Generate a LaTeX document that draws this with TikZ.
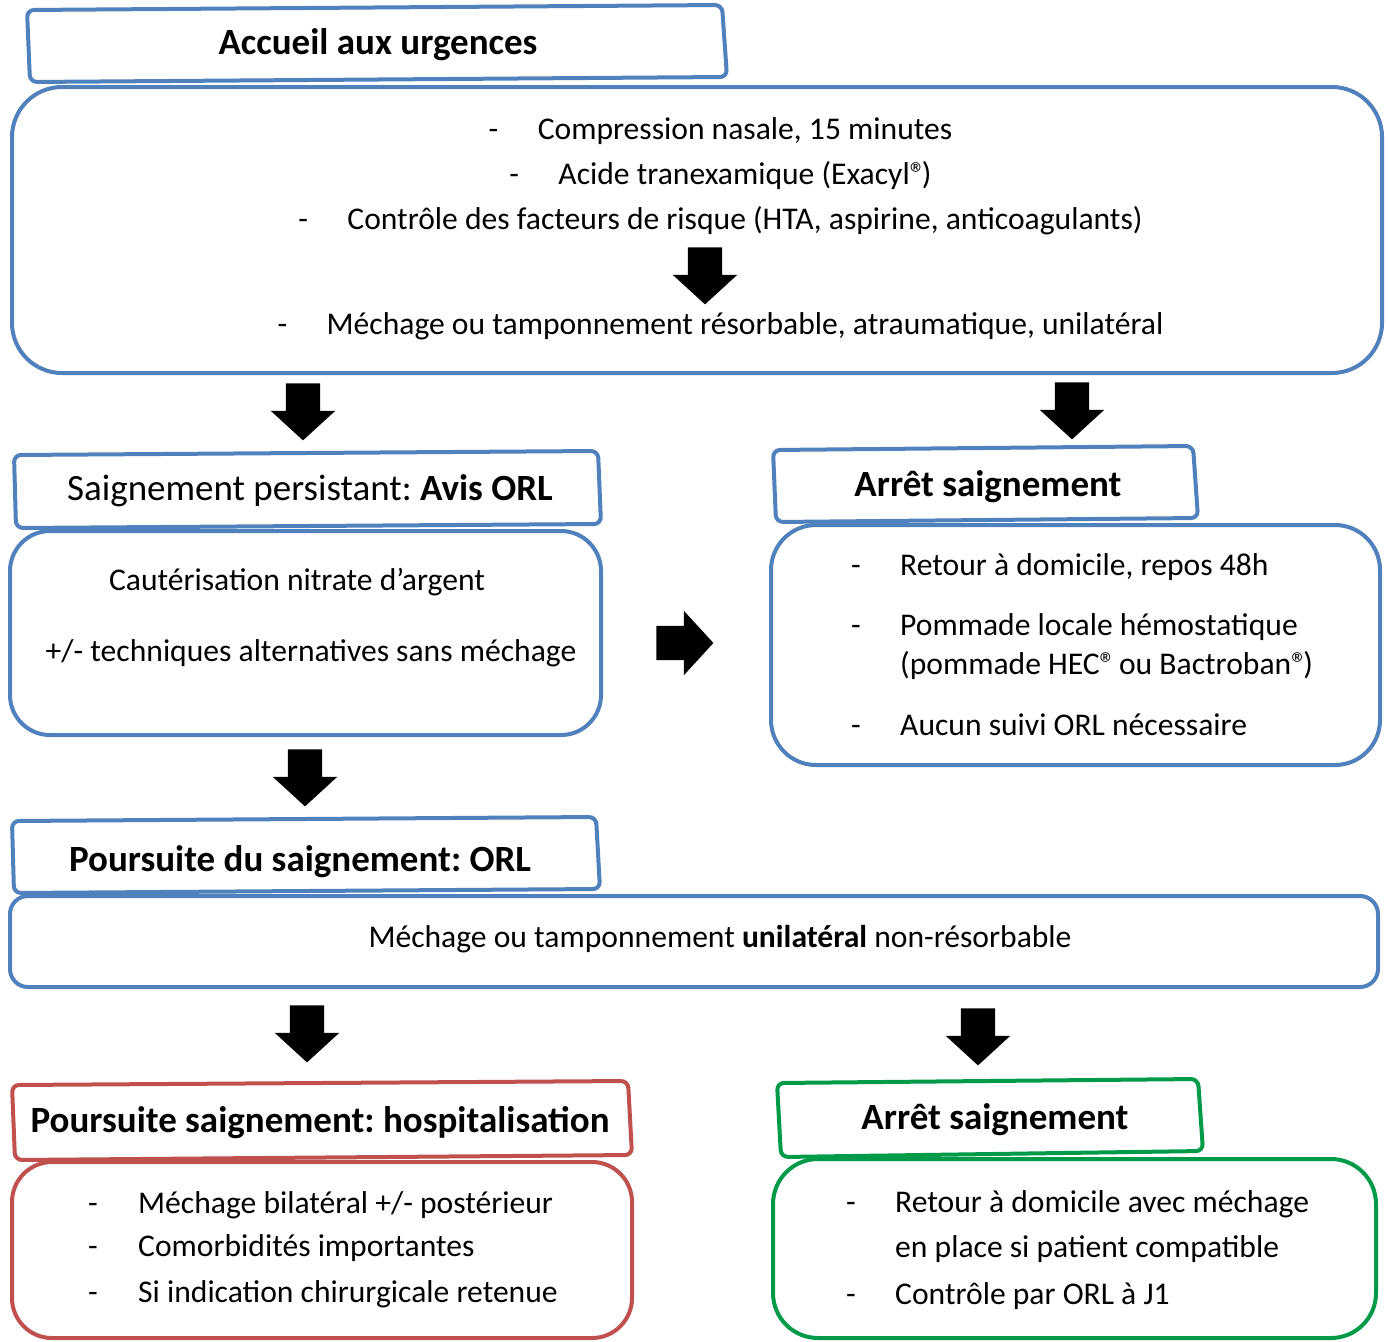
\documentclass[tikz,border=0pt]{standalone}
\usepackage{fontspec}
\setmainfont{Carlito}
\usetikzlibrary{shapes.arrows}
\definecolor{obl}{HTML}{4F81BD}
\definecolor{ored}{HTML}{C0504D}
\definecolor{ogr}{HTML}{009A48}
\newcommand{\regm}{®\kern-0.12em}
\tikzset{
  body/.style={font=\fontsize{31.6}{36}\selectfont\frenchspacing, inner sep=0pt, yshift=-2pt},
  head/.style={font=\fontsize{37}{42}\selectfont\bfseries\frenchspacing, inner sep=0pt, yshift=-2pt},
  headr/.style={font=\fontsize{37}{42}\selectfont\frenchspacing, inner sep=0pt, yshift=-2pt},
  frame/.style={line width=4pt, fill=white, rounded corners=7pt},
  box/.style={draw, line width=4pt, fill=white, rectangle, inner sep=0pt},
  darrow/.style={single arrow, fill=black, draw=none, inner sep=17pt, single arrow head extend=15pt, minimum height=57pt, shape border rotate=270, single arrow tip angle=95},
  rarrow/.style={darrow, shape border rotate=0},
  dashn/.style={font=\fontsize{31.6}{36}\selectfont, inner sep=0pt, anchor=base}
}
\begin{document}
\begin{tikzpicture}[x=1pt,y=-1pt]
\useasboundingbox (0,0) rectangle (1388,1341);
% ---- Accueil
\node[box, draw=obl, minimum width=1370pt, minimum height=286pt, rounded corners=50pt] (b1) at (697,230) {};
\draw[frame, draw=obl] (27,10) -- (722,5) -- (727,77) -- (30,82) -- cycle;
\node[head] (t1) at (378,43) {Accueil aux urgences};
\node[body] (l1) at (745,129) {Compression nasale, 15 minutes};
\node[body] (l2) at (745,173) {Acide tranexamique (Exacyl\regm)};
\node[body] (l3) at (745,219) {Contrôle des facteurs de risque (HTA, aspirine, anticoagulants)};
\node[body] (l4) at (745,324) {Méchage ou tamponnement résorbable, atraumatique, unilatéral};
\foreach \n in {l1,l2,l3,l4} \node[dashn] at ([xshift=-44pt]\n.base west) {-};
\node[darrow] (a0) at (705,268) {};
% ---- arrows from big box
\node[darrow] (a1) at (303,404) {};
\node[darrow] (a2) at (1072,403) {};
% ---- Saignement persistant
\node[box, draw=obl, minimum width=591pt, minimum height=204pt, rounded corners=40pt] (b2) at (305.5,633) {};
\draw[frame, draw=obl] (14,455) -- (598,451) -- (601,524) -- (16,528) -- cycle;
\node[headr] (t2) at (310,489) {Saignement persistant: \textbf{Avis ORL}};
\node[body] (m1) at (297,580) {Cautérisation nitrate d’argent};
\node[body] (m2) at (311,651) {+/- techniques alternatives sans méchage};
\node[rarrow] (a3) at (677,643) {};
% ---- Arrêt blue
\node[box, draw=obl, minimum width=609pt, minimum height=240pt, rounded corners=45pt] (b3) at (1075.5,645) {};
\draw[frame, draw=obl] (773,450) -- (1193,446) -- (1198,518) -- (776,522) -- cycle;
\node[head] (t3) at (988,485) {Arrêt saignement};
\node[body, anchor=west] (r1) at (900,565) {Retour à domicile, repos 48h};
\node[body, anchor=west] (r2) at (900,625) {Pommade locale hémostatique};
\node[body, anchor=west] (r3) at (900,663) {(pommade HEC\regm{} ou Bactroban\regm)};
\node[body, anchor=west] (r4) at (900,723) {Aucun suivi ORL nécessaire};
\foreach \n in {r1,r2,r4} \node[dashn] at (856,0|-\n.base) {-};
% ---- Poursuite ORL
\node[darrow] (a4) at (305,770) {};
\node[box, draw=obl, minimum width=1368pt, minimum height=91pt, rounded corners=18pt] (b4) at (694,941.5) {};
\draw[frame, draw=obl] (12,821) -- (596,817) -- (600,889) -- (14,893) -- cycle;
\node[head] (t4) at (300,860) {Poursuite du saignement: ORL};
\node[body] (u1) at (720,937) {Méchage ou tamponnement \textbf{unilatéral} non-résorbable};
\node[darrow] (a5) at (307,1026) {};
\node[darrow] (a6) at (978,1029) {};
% ---- red
\node[box, draw=ored, minimum width=620pt, minimum height=176pt, rounded corners=40pt] (b5) at (322,1250) {};
\draw[frame, draw=ored] (12,1085) -- (628,1081) -- (632,1155) -- (15,1160) -- cycle;
\node[head] (t5) at (320,1121) {Poursuite saignement: hospitalisation};
\node[body, anchor=west] (h1) at (138,1203) {Méchage bilatéral +/- postérieur};
\node[body, anchor=west] (h2) at (138,1246) {Comorbidités importantes};
\node[body, anchor=west] (h3) at (138,1292) {Si indication chirurgicale retenue};
\foreach \n in {h1,h2,h3} \node[dashn] at (93,0|-\n.base) {-};
% ---- green
\node[box, draw=ogr, minimum width=603pt, minimum height=179pt, rounded corners=45pt] (b6) at (1074.5,1248.5) {};
\draw[frame, draw=ogr] (777,1083) -- (1198,1079) -- (1203,1151) -- (781,1157) -- cycle;
\node[head] (t6) at (995,1118) {Arrêt saignement};
\node[body, anchor=west] (g1) at (895,1202) {Retour à domicile avec méchage};
\node[body, anchor=west] (g2) at (895,1247) {en place si patient compatible};
\node[body, anchor=west] (g3) at (895,1294) {Contrôle par ORL à J1};
\foreach \n in {g1,g3} \node[dashn] at (851,0|-\n.base) {-};
\end{tikzpicture}
\end{document}
